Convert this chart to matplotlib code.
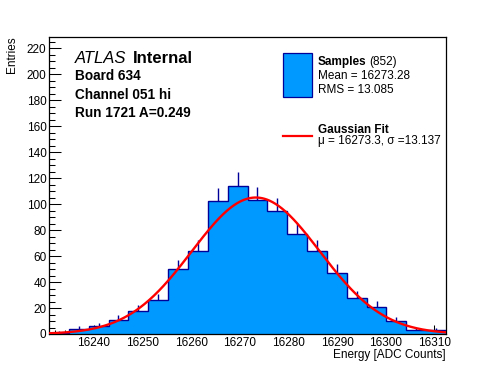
import numpy as np
import matplotlib
matplotlib.use("Agg")
import matplotlib.pyplot as plt
from matplotlib.patches import Rectangle
from matplotlib.lines import Line2D

# ---- data ----
x_min, x_max = 16230.8, 16312.4
counts = [1, 4, 6, 11, 18, 26, 50, 64, 102, 114,
          103, 95, 77, 64, 47, 28, 21, 10, 3, 3]
fit_mu = 16273.3
fit_sigma = 13.137
fit_amp = 105.0
n_samples = 852
mean_val = "16273.28"
rms_val = "13.085"
info_lines = ["Board 634", "Channel 051 hi", "Run 1721 A=0.249"]

W, H = 496, 372
FILL = "#0099ff"
NAVY = "#000099"
FONT = "Liberation Sans"

plt.rcParams["font.family"] = [FONT, "DejaVu Sans"]
plt.rcParams["font.size"] = 8.5


def fx(px):
    return px / W


def fy(py):
    return 1 - py / H


fig = plt.figure(figsize=(W / 100, H / 100), dpi=100)
ax = fig.add_axes([fx(49), fy(334), (446 - 49) / W, (334 - 37) / H])

counts = np.array(counts, dtype=float)
edges = np.linspace(x_min, x_max, len(counts) + 1)
centers = 0.5 * (edges[:-1] + edges[1:])
err = np.sqrt(counts)

# error bars sit under the fill, so only the upper half shows
ax.vlines(centers, counts - err, counts + err, color=NAVY, lw=1.0, zorder=1)
ax.stairs(counts, edges, fill=True, color=FILL, zorder=2)
ax.stairs(counts, edges, color=NAVY, lw=1.0, zorder=3)

xs = np.linspace(x_min, x_max, 500)
ax.plot(xs, fit_amp * np.exp(-0.5 * ((xs - fit_mu) / fit_sigma) ** 2),
        color="red", lw=1.7, zorder=4)

ax.set_xlim(x_min, x_max)
ax.set_ylim(0, 228.5)
ax.set_xticks(np.arange(16240, 16311, 10))
ax.set_xticks(np.arange(16232, 16313, 2), minor=True)
ax.set_yticks(np.arange(0, 221, 20))
ax.set_yticks(np.arange(0, 229, 5), minor=True)
ax.tick_params(axis="x", which="major", direction="in", length=6.4, width=0.75, pad=2.5)
ax.tick_params(axis="x", which="minor", direction="in", length=3.2, width=0.75)
ax.tick_params(axis="y", which="major", direction="in", length=8.6, width=0.75, pad=1.8)
ax.tick_params(axis="y", which="minor", direction="in", length=4.3, width=0.75)
ax.tick_params(top=False, right=False, labelsize=8.5)
for sp in ax.spines.values():
    sp.set_linewidth(0.9)

# axis titles, ROOT style
fig.text(fx(12), fy(36), "Entries", rotation=90, ha="center", va="top", fontsize=8.5)
fig.text(fx(446), fy(358.3), "Energy [ADC Counts]", ha="right", va="baseline", fontsize=8.5)

# ATLAS label block
fig.text(fx(75), fy(63.3), "ATLAS", style="italic", fontsize=12, va="baseline")
fig.text(fx(133), fy(63.3), "Internal", weight="bold", fontsize=12, va="baseline")
for line, base in zip(info_lines, [80, 99.3, 117.3]):
    fig.text(fx(75), fy(base), line, weight="bold", fontsize=9.8, va="baseline")

# legend
fig.add_artist(Rectangle((fx(283.3), fy(96.7)), (311.7 - 283.3) / W, (96.7 - 53.3) / H,
                         transform=fig.transFigure, facecolor=FILL, edgecolor=NAVY, lw=0.9))
t = fig.text(fx(317.7), fy(65), "Samples", weight="bold", va="baseline")
fig.canvas.draw()
right_px = t.get_window_extent().x1
fig.text((right_px + 3.3) / W, fy(65), f"({n_samples})", va="baseline")
fig.text(fx(317.7), fy(79.3), f"Mean = {mean_val}", va="baseline")
fig.text(fx(317.7), fy(93.3), f"RMS = {rms_val}", va="baseline")
fig.add_artist(Line2D([fx(282.7), fx(311.7)], [fy(136), fy(136)],
                      transform=fig.transFigure, color="red", lw=1.6))
fig.text(fx(317.7), fy(132.7), "Gaussian Fit", weight="bold", va="baseline")
fig.text(fx(317.7), fy(144), f"\u03bc = {fit_mu}, \u03c3 ={fit_sigma}", va="baseline")

fig.savefig("out.png", dpi=100)
